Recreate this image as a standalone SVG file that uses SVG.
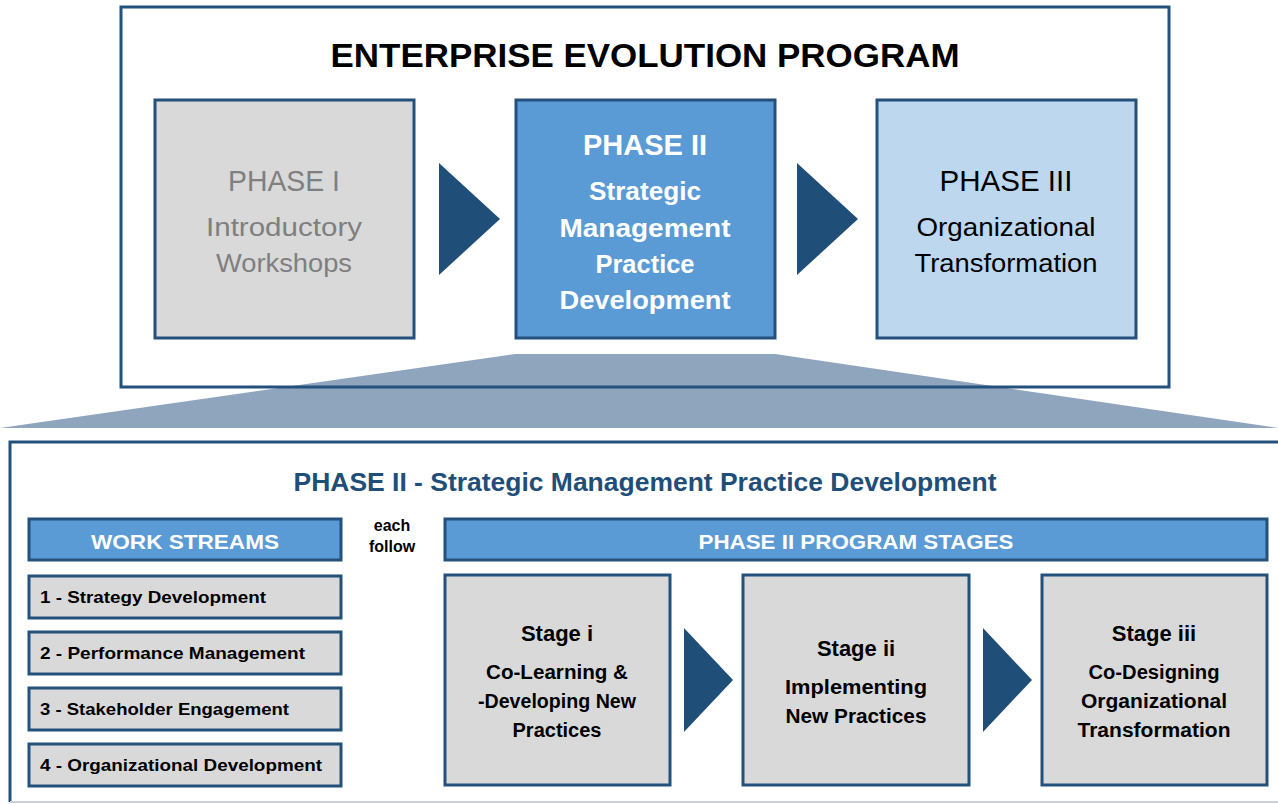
<svg xmlns="http://www.w3.org/2000/svg" width="1278" height="804" viewBox="0 0 1278 804">
<style>
text{font-family:"Liberation Sans",Arial,sans-serif;text-anchor:middle}
.frame{fill:none;stroke:#24507c;stroke-width:3}
.box{stroke:#24507c;stroke-width:3}
.grey{fill:#d9d9d9}
.blue{fill:#5b9bd5}
.lblue{fill:#bdd7ee}
.arrow{fill:#1f4e79}
.b{font-weight:bold}
.w{fill:#ffffff}
.k{fill:#000000}
.g{fill:#7f7f7f}
.ws{font-size:17px;font-weight:bold;text-anchor:start;fill:#000}
.st{font-size:22px;font-weight:bold;fill:#000}
.sl{font-size:20px;font-weight:bold;fill:#000}
</style>
<rect x="0" y="0" width="1278" height="804" fill="#ffffff"/>
<!-- zoom trapezoid -->
<polygon points="515,354 775,354 1278,428 0,428" fill="#8fa5bd"/>
<!-- top frame -->
<rect class="frame" x="121" y="7" width="1048" height="380"/>
<text class="b k" x="645" y="67" font-size="34" textLength="629" lengthAdjust="spacingAndGlyphs">ENTERPRISE EVOLUTION PROGRAM</text>

<g id="phase1">
<rect class="box grey" x="155" y="100" width="259" height="238"/>
<text class="g" x="284" y="191" font-size="30" textLength="112" lengthAdjust="spacingAndGlyphs">PHASE I</text>
<text class="g" x="284" y="236" font-size="26" textLength="156" lengthAdjust="spacingAndGlyphs">Introductory</text>
<text class="g" x="284" y="272" font-size="26" textLength="136" lengthAdjust="spacingAndGlyphs">Workshops</text>
</g>
<g id="phase2">
<rect class="box blue" x="516" y="100" width="259" height="238"/>
<text class="b w" x="645" y="155" font-size="30" textLength="124" lengthAdjust="spacingAndGlyphs">PHASE II</text>
<text class="b w" x="645" y="200" font-size="25" textLength="112" lengthAdjust="spacingAndGlyphs">Strategic</text>
<text class="b w" x="645" y="237" font-size="25" textLength="171" lengthAdjust="spacingAndGlyphs">Management</text>
<text class="b w" x="645" y="273" font-size="25" textLength="99" lengthAdjust="spacingAndGlyphs">Practice</text>
<text class="b w" x="645" y="309" font-size="25" textLength="171" lengthAdjust="spacingAndGlyphs">Development</text>
</g>
<g id="phase3">
<rect class="box lblue" x="877" y="100" width="259" height="238"/>
<text class="k" x="1006" y="191" font-size="30" textLength="133" lengthAdjust="spacingAndGlyphs">PHASE III</text>
<text class="k" x="1006" y="236" font-size="26" textLength="179" lengthAdjust="spacingAndGlyphs">Organizational</text>
<text class="k" x="1006" y="272" font-size="26" textLength="183" lengthAdjust="spacingAndGlyphs">Transformation</text>
</g>

<!-- bottom section frame -->
<path d="M10,802 L10,442 L1290,442" fill="none" stroke="#24507c" stroke-width="3"/>
<line x1="10" y1="802" x2="1278" y2="802" stroke="#c9d2dc" stroke-width="2"/>
<text class="b" x="645" y="491" font-size="25" fill="#1f4e79" textLength="703" lengthAdjust="spacingAndGlyphs">PHASE II - Strategic Management Practice Development</text>

<g id="ws-header">
<rect class="box blue" x="29" y="519" width="312" height="41"/>
<text class="b w" x="185" y="549" font-size="21" textLength="188" lengthAdjust="spacingAndGlyphs">WORK STREAMS</text>
</g>
<g id="ws1">
<rect class="box grey" x="29" y="576" width="312" height="42"/>
<text class="ws" x="40" y="603" textLength="226" lengthAdjust="spacingAndGlyphs">1 - Strategy Development</text>
</g>
<g id="ws2">
<rect class="box grey" x="29" y="632" width="312" height="42"/>
<text class="ws" x="40" y="659" textLength="265" lengthAdjust="spacingAndGlyphs">2 - Performance Management</text>
</g>
<g id="ws3">
<rect class="box grey" x="29" y="688" width="312" height="42"/>
<text class="ws" x="40" y="715" textLength="249" lengthAdjust="spacingAndGlyphs">3 - Stakeholder Engagement</text>
</g>
<g id="ws4">
<rect class="box grey" x="29" y="744" width="312" height="42"/>
<text class="ws" x="40" y="771" textLength="282" lengthAdjust="spacingAndGlyphs">4 - Organizational Development</text>
</g>

<g id="each-follow">
<text class="b k" x="392" y="531" font-size="16">each</text>
<text class="b k" x="392" y="552" font-size="16">follow</text>
</g>

<g id="stages-header">
<rect class="box blue" x="445" y="519" width="822" height="41"/>
<text class="b w" x="856" y="549" font-size="21" textLength="315" lengthAdjust="spacingAndGlyphs">PHASE II PROGRAM STAGES</text>
</g>
<g id="stage1">
<rect class="box grey" x="445" y="575" width="225" height="210"/>
<text class="st" x="557" y="641">Stage i</text>
<text class="sl" x="557" y="679" textLength="142" lengthAdjust="spacingAndGlyphs">Co-Learning &amp;</text>
<text class="sl" x="557" y="708" textLength="158" lengthAdjust="spacingAndGlyphs">-Developing New</text>
<text class="sl" x="557" y="737" textLength="89" lengthAdjust="spacingAndGlyphs">Practices</text>
</g>
<g id="stage2">
<rect class="box grey" x="743" y="575" width="226" height="210"/>
<text class="st" x="856" y="656">Stage ii</text>
<text class="sl" x="856" y="694" textLength="142" lengthAdjust="spacingAndGlyphs">Implementing</text>
<text class="sl" x="856" y="723" textLength="141" lengthAdjust="spacingAndGlyphs">New Practices</text>
</g>
<g id="stage3">
<rect class="box grey" x="1042" y="575" width="225" height="210"/>
<text class="st" x="1154" y="641">Stage iii</text>
<text class="sl" x="1154" y="679" textLength="131" lengthAdjust="spacingAndGlyphs">Co-Designing</text>
<text class="sl" x="1154" y="708" textLength="146" lengthAdjust="spacingAndGlyphs">Organizational</text>
<text class="sl" x="1154" y="737" textLength="153" lengthAdjust="spacingAndGlyphs">Transformation</text>
</g>

<g id="connectors">
<polygon class="arrow" points="439,163 500,219 439,275"/>
<polygon class="arrow" points="797,163 858,219 797,275"/>
<polygon class="arrow" points="684,628 733,680 684,732"/>
<polygon class="arrow" points="983,628 1032,680 983,732"/>
</g>
</svg>
